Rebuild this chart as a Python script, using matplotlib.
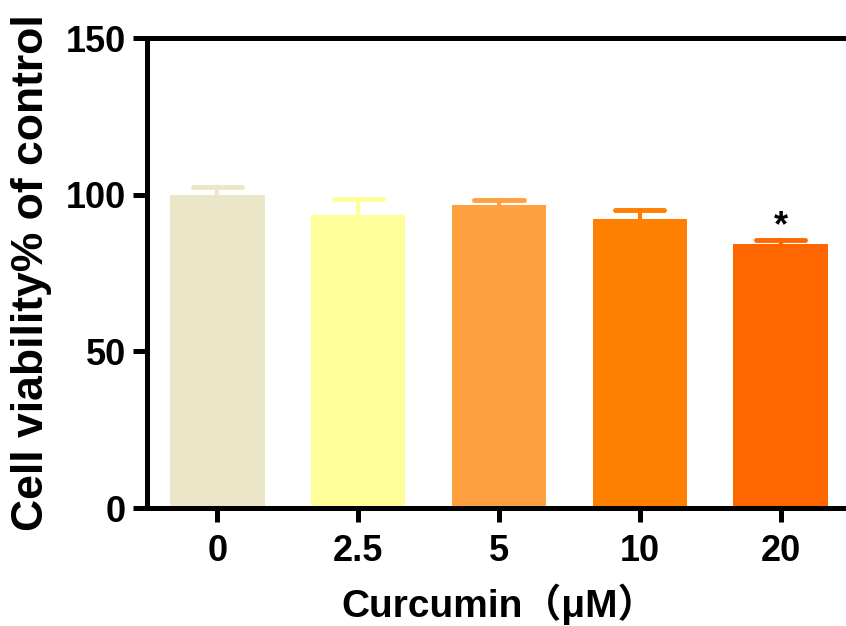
import numpy as np
import matplotlib
matplotlib.use('Agg')
import matplotlib.pyplot as plt

# data
doses = ['0', '2.5', '5', '10', '20']
viability = [100.0, 93.5, 96.7, 92.2, 84.3]
sem = [2.5, 5.1, 1.5, 3.0, 1.3]
bar_colors = ['#ECE6C9', '#FFFF99', '#FFA040', '#FF8000', '#FF6600']
signif = ['', '', '', '', '*']
yticks = [0, 50, 100, 150]

plt.rcParams['font.family'] = ['Liberation Sans', 'Noto Sans CJK SC', 'DejaVu Sans']
plt.rcParams['font.weight'] = 'bold'

fig = plt.figure(figsize=(8.46, 6.26), dpi=100)
# axes runs slightly past the right edge of the figure, like the reference
ax = fig.add_axes([147 / 846, 118 / 626, 704 / 846, 470 / 626])

x = np.arange(len(doses))
bw = 0.67
ax.bar(x, viability, width=bw, color=bar_colors, zorder=2)

# upward-only error bars in the bar colour
for xi, v, e, c in zip(x, viability, sem, bar_colors):
    ax.plot([xi, xi], [v, v + e], color=c, lw=3, zorder=1)
    ax.plot([xi - bw * 0.26, xi + bw * 0.26], [v + e, v + e], color=c, lw=3.5,
            solid_capstyle='round', zorder=3)

for xi, v, e, s in zip(x, viability, sem, signif):
    if s:
        ax.text(xi, v + e - 1.5, s, ha='center', va='bottom', fontsize=26,
                fontweight='bold')

ax.set_xlim(-0.5, 4.5)
ax.set_ylim(0, 150)
ax.set_xticks(x)
ax.set_xticklabels(doses)
ax.set_yticks(yticks)

for side in ['left', 'top', 'bottom']:
    ax.spines[side].set_linewidth(3.6)
    ax.spines[side].set_capstyle('round')
ax.spines['right'].set_visible(False)

ax.tick_params(axis='both', direction='out', length=10, width=3.6,
               labelsize=26, pad=5)
ax.tick_params(axis='x', pad=9)
for lab in ax.get_xticklabels() + ax.get_yticklabels():
    lab.set_fontweight('bold')

ax.set_ylabel('Cell viability% of control', fontsize=32, fontweight='bold',
              labelpad=10)
ax.set_xlabel('Curcumin（μM）', fontsize=28, fontweight='bold', labelpad=10)

fig.savefig('out.png', dpi=100)
